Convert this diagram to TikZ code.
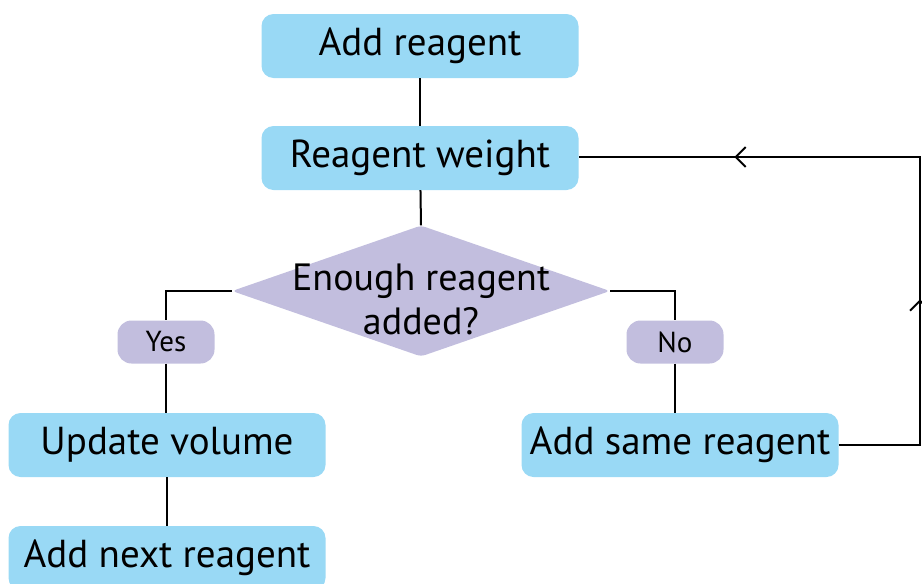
\documentclass[tikz,border=0pt]{standalone}
\usepackage{fontspec}
\setmainfont{PT Sans}
\usetikzlibrary{shapes.geometric,arrows.meta,decorations.markings}
\definecolor{boxblue}{RGB}{153,217,245}
\definecolor{lav}{RGB}{194,190,222}
\begin{document}
\begin{tikzpicture}[x=1pt,y=-1pt,
  box/.style={fill=boxblue,rounded corners=12pt,minimum width=317pt,minimum height=64pt,inner sep=0pt,font=\fontsize{39}{44}\selectfont},
  pill/.style={fill=lav,rounded corners=14pt,minimum width=97pt,minimum height=43pt,inner sep=0pt,font=\fontsize{29}{32}\selectfont},
  conn/.style={line width=2pt,draw=black}]
\useasboundingbox (0,0) rectangle (922,584);
\node[box] (add) at (420,46) {Add reagent};
\node[box] (weight) at (420,158) {Reagent weight};
\node[diamond,fill=lav,minimum width=378pt,minimum height=131pt,inner sep=0pt,rounded corners=4pt] (dia) at (421,291) {};
\node[align=center,font=\fontsize{38}{44}\selectfont] (diatext) at (421,299) {Enough reagent\\added?};
\node[pill] (yes) at (166,342) {Yes};
\node[pill] (no) at (675,342) {No};
\node[box] (update) at (167,445) {Update volume};
\node[box] (same) at (680,445) {Add same reagent};
\node[box] (next) at (167,558) {Add next reagent};
\coordinate (c1) at (920,445);
\coordinate (c2) at (920,157);
\draw[conn] (add) -- (weight);
\draw[conn] (weight) -- (dia.north);
\draw[conn] (dia.west) -| (yes.north);
\draw[conn] (yes) -- (yes |- update.north);
\draw[conn] (update) -- (next);
\draw[conn] (dia.east) -| (no.north);
\draw[conn] (no) -- (no |- same.north);
\draw[conn,decoration={markings,
   mark=at position 227pt with {\arrow{Straight Barb[length=10pt,width=20pt,line width=2pt]}},
   mark=at position 555pt with {\arrow{Straight Barb[length=10pt,width=20pt,line width=2pt]}}},
   postaction={decorate}]
  (same.east) -- (c1) -- (c2) -- (c2 -| weight.east);
\end{tikzpicture}
\end{document}
